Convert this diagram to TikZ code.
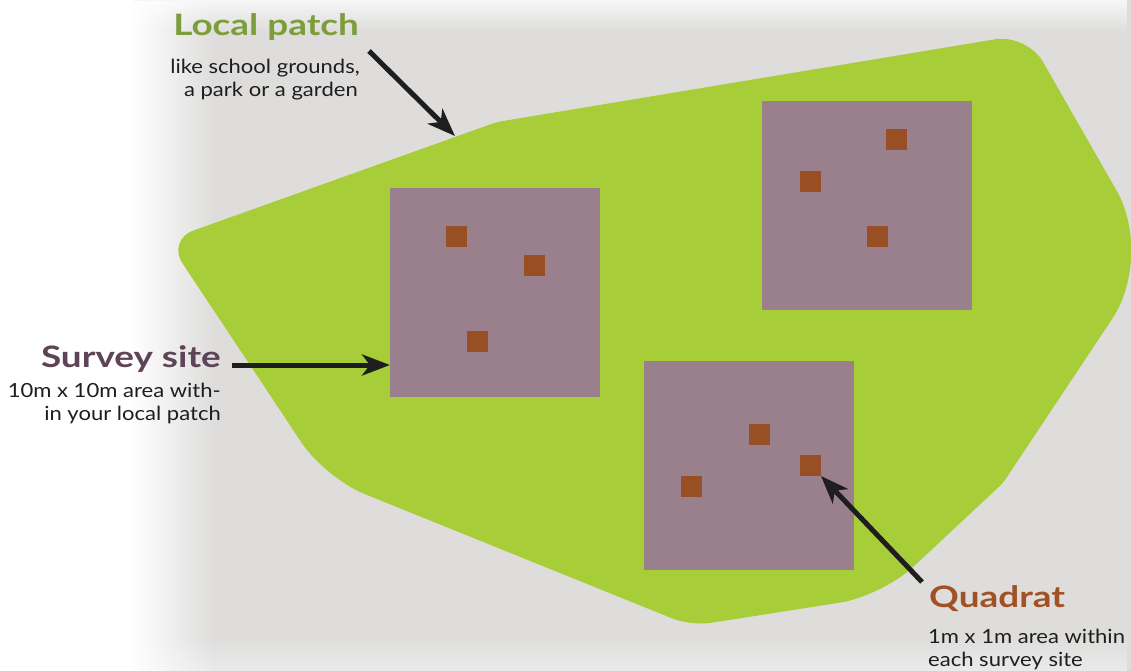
\documentclass[tikz,border=0pt]{standalone}
\usepackage{fontspec}
\setmainfont{Lato}
\newfontfamily\titlefont{Lato}[FakeStretch=1.25]
\newfontfamily\notefont{Lato}[FakeStretch=1.13]
\usetikzlibrary{arrows.meta,calc,fadings}

\definecolor{patchgreen}{RGB}{167,206,57}
\definecolor{sitemauve}{RGB}{154,127,140}
\definecolor{quadbrown}{RGB}{151,79,35}
\definecolor{bggray}{RGB}{222,221,220}
\definecolor{titlegreen}{RGB}{124,157,60}
\definecolor{titleplum}{RGB}{94,68,86}
\definecolor{titlebrown}{RGB}{160,82,38}
\definecolor{ink}{RGB}{30,30,30}

\tikzfading[name=fadeleft, left color=transparent!0, right color=transparent!100]
\tikzfading[name=fadetop, top color=transparent!0, bottom color=transparent!100]
\tikzfading[name=fadebottom, top color=transparent!100, bottom color=transparent!0]

% rounded corner at #2 between neighbours #1 and #3: cut #4, handle #5
\newcommand\roundat[5]{-- ($(#2)!#4!(#1)$) .. controls ($(#2)!#5!(#1)$) and ($(#2)!#5!(#3)$) .. ($(#2)!#4!(#3)$)}

\tikzset{
  site/.style={fill=sitemauve, minimum width=210pt, minimum height=209pt, inner sep=0pt, outer sep=0pt},
  quad/.style={fill=quadbrown, minimum size=21pt, inner sep=0pt, outer sep=0pt},
  pointer/.style={draw=ink, line width=5pt, -{Stealth[length=28pt,width=21pt,inset=8pt]}},
  title/.style={font=\titlefont\bfseries\fontsize{29.5}{34}\selectfont, inner sep=0pt},
  note/.style={font=\notefont\fontsize{19.5}{23}\selectfont, text=ink, inner sep=0pt},
}

\begin{document}
\begin{tikzpicture}[x=1pt, y=-1pt]
\useasboundingbox (0,0) rectangle (1131,671);

% backdrop: grey card fading to white on the left
\fill[bggray] (0,0) rectangle (1131,671);
\fill[white] (0,0) rectangle (133,671);
\fill[white, path fading=fadeleft] (132,0) rectangle (215,671);
\fill[white, opacity=0.75, path fading=fadetop] (0,0) rectangle (1131,32);
\fill[white, opacity=0.4, path fading=fadebottom] (0,635) rectangle (1131,671);

% the local patch outline
\coordinate (A) at (167,240);
\coordinate (B) at (497,122);
\coordinate (C) at (1027,34);
\coordinate (D) at (1154,256);
\coordinate (E) at (1003,483);
\coordinate (F) at (882,596);
\coordinate (G) at (691,626);
\coordinate (H) at (325,478);
\fill[patchgreen] ($(H)!0.5!(A)$)
  \roundat{H}{A}{B}{28pt}{12.6pt}
  \roundat{A}{B}{C}{5pt}{2.25pt}
  \roundat{B}{C}{D}{32pt}{14.4pt}
  \roundat{C}{D}{E}{75pt}{33pt}
  \roundat{D}{E}{F}{5pt}{2.25pt}
  \roundat{E}{F}{G}{42pt}{19pt}
  \roundat{F}{G}{H}{20pt}{9pt}
  \roundat{G}{H}{A}{42pt}{19pt}
  -- cycle;

% survey sites
\node[site] (site1) at (495,292.5) {};
\node[site] (site2) at (867,205.5) {};
\node[site] (site3) at (749,465.5) {};

% quadrats
\node[quad] (q1a) at (456.5,236.5) {};
\node[quad] (q1b) at (534.5,265.5) {};
\node[quad] (q1c) at (477.5,341.5) {};
\node[quad] (q2a) at (896.5,139.5) {};
\node[quad] (q2b) at (810.5,181.5) {};
\node[quad] (q2c) at (877.5,236.5) {};
\node[quad] (q3a) at (759.5,434.5) {};
\node[quad] (q3b) at (810.5,465.5) {};
\node[quad] (q3c) at (691.5,486.5) {};

% labels
\node[title, text=titlegreen, anchor=base east] (patchtitle) at (359,36) {Local patch};
\node[note, anchor=base east] (patchline1) at (360,74) {like school grounds,};
\node[note, anchor=base east] (patchline2) at (358,97) {a park or a garden};

\node[title, text=titleplum, anchor=base east] (sitetitle) at (221,367) {Survey site};
\node[note, anchor=base east] (siteline1) at (221,397) {10m x 10m area with-};
\node[note, anchor=base east] (siteline2) at (221,420) {in your local patch};

\node[title, text=titlebrown, anchor=base west] (quadtitle) at (929,607) {Quadrat};
\node[note, anchor=base west] (quadline1) at (928,643) {1m x 1m area within};
\node[note, anchor=base west] (quadline2) at (928,666) {each survey site};

% pointers
\coordinate (patchtail) at (369,51);
\coordinate (patchtip) at (455,136);
\coordinate (sitetail) at (232,365);
\coordinate (quadtail) at (922,582);
\draw[pointer] (patchtail) -- (patchtip);
\draw[pointer] (sitetail) -- (sitetail -| site1.west);
\draw[pointer] (quadtail) -- (q3b.south east);
\end{tikzpicture}
\end{document}
